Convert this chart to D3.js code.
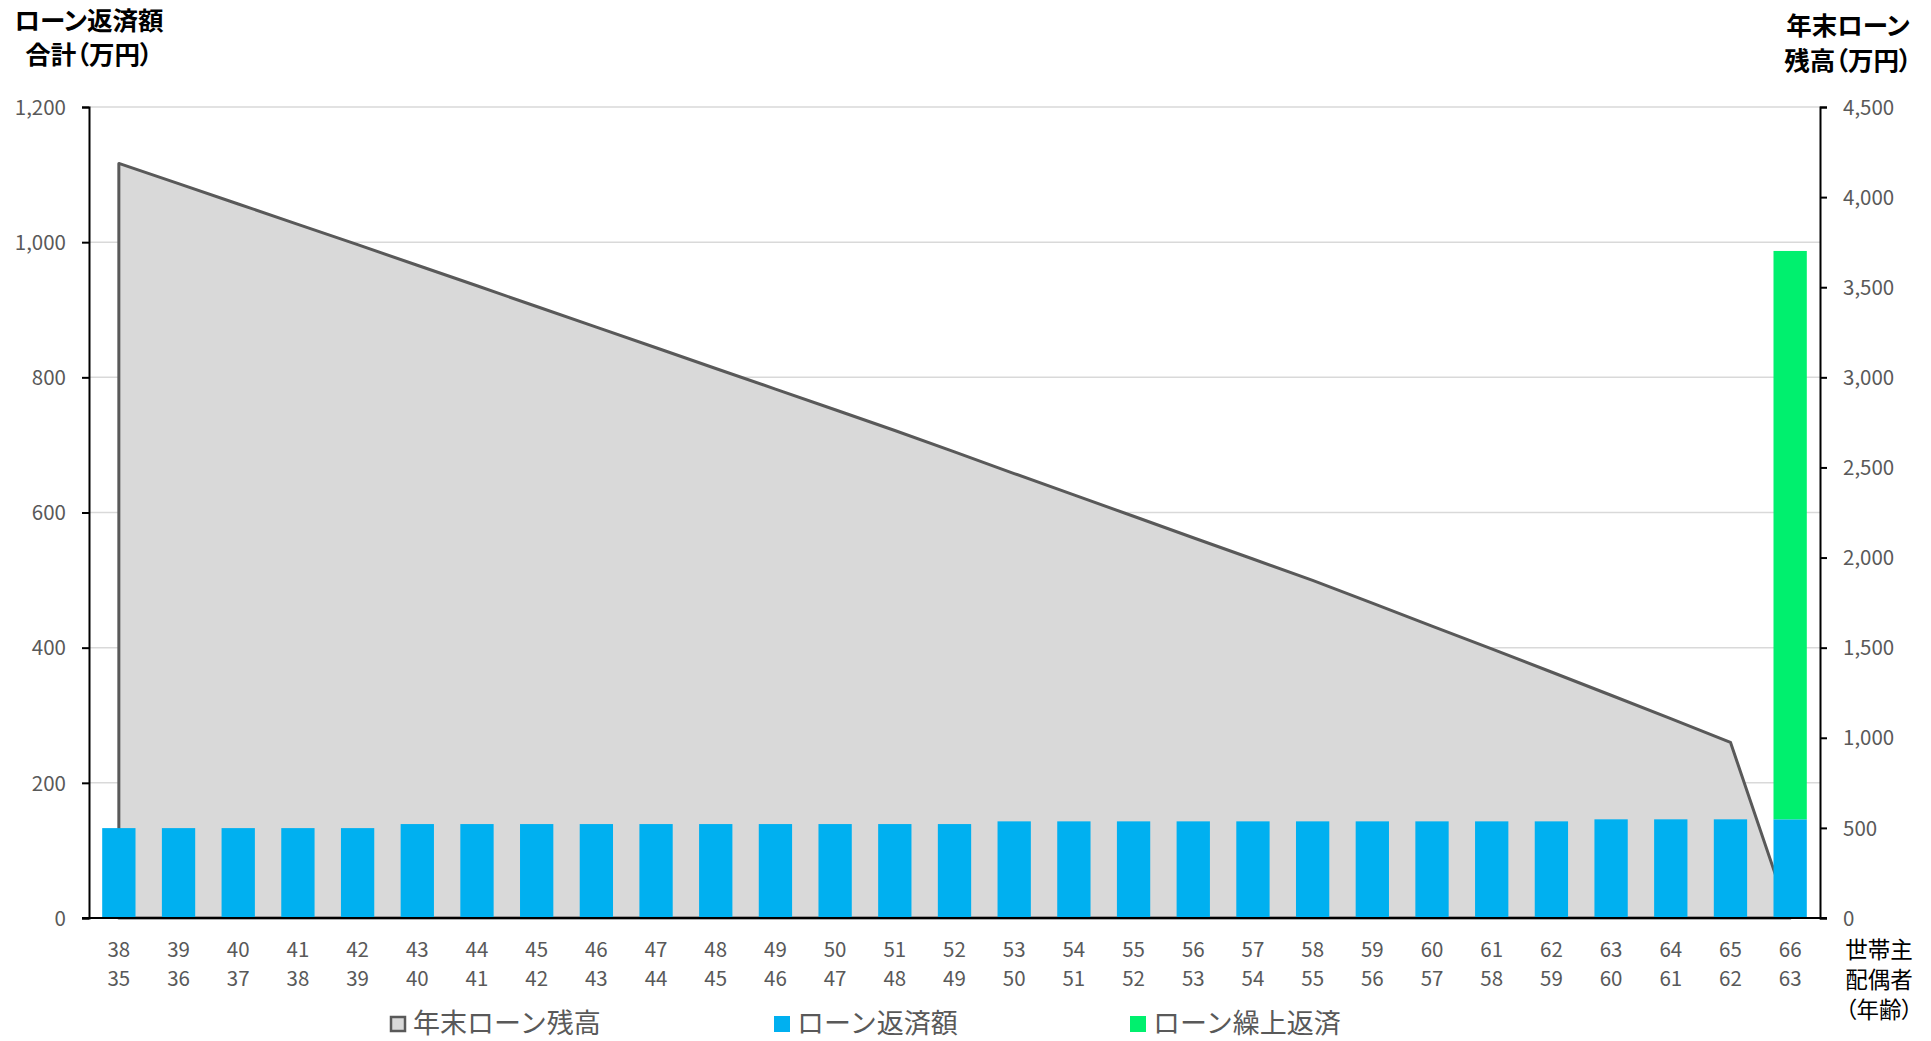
<!DOCTYPE html>
<html lang="ja">
<head>
<meta charset="utf-8">
<script src="https://cdn.jsdelivr.net/npm/d3@7"></script>
<style>
  body { margin: 0; background: #fff; }
  svg text { font-family: "Noto Sans CJK JP", "Noto Sans", sans-serif; font-feature-settings: "palt" 1; }
  .tick-label { fill: #595959; font-size: 20.5px; }
  .title { fill: #000; font-size: 25.5px; font-weight: bold; }
  .legend-label { fill: #595959; font-size: 27px; font-feature-settings: "palt" 0; }
</style>
</head>
<body>
<svg id="chart" width="1931" height="1041"></svg>
<script>
// ages: household head / spouse
const headAges = [38, 39, 40, 41, 42, 43, 44, 45, 46, 47, 48, 49, 50, 51, 52, 53, 54, 55, 56, 57, 58, 59, 60, 61, 62, 63, 64, 65, 66];
const spouseAges = [35, 36, 37, 38, 39, 40, 41, 42, 43, 44, 45, 46, 47, 48, 49, 50, 51, 52, 53, 54, 55, 56, 57, 58, 59, 60, 61, 62, 63];

// 年末ローン残高 (万円, right axis)
const loanBalance = [4187, 4075, 3962, 3849, 3736, 3622, 3508, 3393, 3279, 3164, 3049, 2935, 2820, 2705, 2586, 2466, 2348, 2229, 2110, 1992, 1873, 1747, 1620, 1493, 1365, 1236, 1106, 975, 0];
// ローン返済額 (万円, left axis)
const repayment = [133, 133, 133, 133, 133, 139, 139, 139, 139, 139, 139, 139, 139, 139, 139, 143, 143, 143, 143, 143, 143, 143, 143, 143, 143, 146, 146, 146, 146];
// ローン繰上返済 (万円, left axis)
const prepayment = [0, 0, 0, 0, 0, 0, 0, 0, 0, 0, 0, 0, 0, 0, 0, 0, 0, 0, 0, 0, 0, 0, 0, 0, 0, 0, 0, 0, 841];

const leftTicks = [0, 200, 400, 600, 800, 1000, 1200];
const rightTicks = [0, 500, 1000, 1500, 2000, 2500, 3000, 3500, 4000, 4500];

const colors = { balance: "#d9d9d9", balanceLine: "#595959", repay: "#00b0f0", prepay: "#00f06e", grid: "#d9d9d9", axis: "#000" };

const plotLeft = 89, plotRight = 1820, plotTop = 107, plotBottom = 918;

const svg = d3.select("#chart");
const idx = d3.range(headAges.length);

const x = d3.scaleBand().domain(idx).range([plotLeft, plotRight]).paddingInner(0.442).paddingOuter(0.221);
const cx = i => x(i) + x.bandwidth() / 2;
const yL = d3.scaleLinear().domain([0, 1200]).range([plotBottom, plotTop]);
const yR = d3.scaleLinear().domain([0, 4500]).range([plotBottom, plotTop]);

// grid
svg.append("g").selectAll("line")
    .data(leftTicks.filter(d => d > 0))
    .join("line")
    .attr("x1", plotLeft).attr("x2", plotRight)
    .attr("y1", d => yL(d)).attr("y2", d => yL(d))
    .attr("stroke", colors.grid).attr("stroke-width", 1.5);

// balance area
const area = d3.area()
    .x(i => cx(i))
    .y0(yR(0))
    .y1(i => yR(loanBalance[i]));

svg.append("path")
    .attr("d", area(idx))
    .attr("fill", colors.balance)
    .attr("stroke", colors.balanceLine)
    .attr("stroke-width", 3)
    .attr("stroke-linejoin", "round");

// stacked bars
const bars = svg.append("g");
bars.selectAll(".repay")
    .data(idx)
    .join("rect")
    .attr("class", "repay")
    .attr("x", i => x(i)).attr("width", x.bandwidth())
    .attr("y", i => yL(repayment[i]))
    .attr("height", i => yL(0) - yL(repayment[i]))
    .attr("fill", colors.repay);

bars.selectAll(".prepay")
    .data(idx.filter(i => prepayment[i] > 0))
    .join("rect")
    .attr("class", "prepay")
    .attr("x", i => x(i)).attr("width", x.bandwidth())
    .attr("y", i => yL(repayment[i] + prepayment[i]))
    .attr("height", i => yL(repayment[i]) - yL(repayment[i] + prepayment[i]))
    .attr("fill", colors.prepay);

// axes
const leftAxis = d3.axisLeft(yL).tickValues(leftTicks).tickSize(7).tickFormat(d3.format(","));
const gL = svg.append("g").attr("transform", `translate(${plotLeft},0)`).call(leftAxis);
gL.select(".domain").attr("stroke", colors.axis).attr("stroke-width", 2);
gL.selectAll(".tick line").attr("stroke", colors.axis).attr("stroke-width", 2);
gL.selectAll(".tick text").attr("class", "tick-label").attr("x", -23).attr("dy", "0.35em");

const rightAxis = d3.axisRight(yR).tickValues(rightTicks).tickSize(7).tickFormat(d3.format(","));
const gR = svg.append("g").attr("transform", `translate(${plotRight},0)`).call(rightAxis);
gR.select(".domain").attr("stroke", colors.axis).attr("stroke-width", 2);
gR.selectAll(".tick line").attr("stroke", colors.axis).attr("stroke-width", 2);
gR.selectAll(".tick text").attr("class", "tick-label").attr("x", 23).attr("dy", "0.35em");
[gL, gR].forEach(g => g.attr("font-family", null).attr("font-size", null).selectAll("text").attr("fill", null));

svg.append("line")
    .attr("x1", plotLeft - 7).attr("x2", plotRight + 7)
    .attr("y1", plotBottom).attr("y2", plotBottom)
    .attr("stroke", colors.axis).attr("stroke-width", 2);

// category labels
const xl = svg.append("g");
xl.selectAll(".head")
    .data(idx)
    .join("text")
    .attr("class", "tick-label head")
    .attr("x", cx).attr("y", 950).attr("dy", "0.35em")
    .attr("text-anchor", "middle")
    .text(i => headAges[i]);
xl.selectAll(".spouse")
    .data(idx)
    .join("text")
    .attr("class", "tick-label spouse")
    .attr("x", cx).attr("y", 979).attr("dy", "0.35em")
    .attr("text-anchor", "middle")
    .text(i => spouseAges[i]);

["世帯主", "配偶者", "（年齢）"].forEach((t, k) => {
    svg.append("text")
        .attr("x", 1879).attr("y", 950 + k * 30).attr("dy", "0.35em")
        .attr("text-anchor", "middle")
        .attr("font-size", 22.5).attr("fill", "#000")
        .text(t);
});

// axis titles
[["ローン返済額", 21], ["合計（万円）", 55]].forEach(([t, y]) => {
    svg.append("text").attr("class", "title")
        .attr("x", 89).attr("y", y).attr("dy", "0.35em")
        .attr("text-anchor", "middle").text(t);
});
[["年末ローン", 26], ["残高（万円）", 61]].forEach(([t, y]) => {
    svg.append("text").attr("class", "title")
        .attr("x", 1848).attr("y", y).attr("dy", "0.35em")
        .attr("text-anchor", "middle").text(t);
});

// legend
const legendItems = [
    { label: "年末ローン残高", x: 390, fill: colors.balance, stroke: colors.balanceLine },
    { label: "ローン返済額", x: 774, fill: colors.repay, stroke: null },
    { label: "ローン繰上返済", x: 1130, fill: colors.prepay, stroke: null }
];
const lg = svg.append("g").selectAll("g")
    .data(legendItems)
    .join("g")
    .attr("transform", d => `translate(${d.x},1024)`);
lg.append("rect")
    .attr("x", d => d.stroke ? 1 : 0).attr("y", d => d.stroke ? -7 : -8)
    .attr("width", d => d.stroke ? 14 : 16).attr("height", d => d.stroke ? 14 : 16)
    .attr("fill", d => d.fill)
    .attr("stroke", d => d.stroke)
    .attr("stroke-width", 2.5);
lg.append("text")
    .attr("class", "legend-label")
    .attr("x", 23).attr("dy", "0.35em")
    .text(d => d.label);
</script>
</body>
</html>
